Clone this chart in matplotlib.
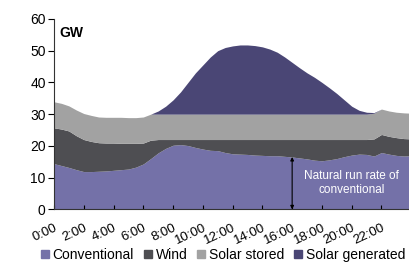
import numpy as np
import matplotlib
matplotlib.use("Agg")
import matplotlib.pyplot as plt
from matplotlib.lines import Line2D

plt.rcParams['font.family'] = ['Liberation Sans', 'DejaVu Sans']

# half-hour steps, 0:00 .. 24:00
hours = np.arange(0, 24.01, 0.5)

# top edge of each stacked layer (GW)
conventional_top = [14.4, 13.8, 13.2, 12.5, 11.9, 11.9, 12.0, 12.1, 12.3, 12.5,
                    12.7, 13.3, 14.3, 16.0, 17.8, 19.2, 20.2, 20.4, 20.1, 19.5,
                    19.0, 18.6, 18.5, 17.9, 17.5, 17.4, 17.3, 17.1, 17.0, 16.9,
                    16.9, 16.7, 16.5, 16.2, 15.9, 15.5, 15.3, 15.6, 16.0, 16.6,
                    17.1, 17.4, 17.3, 16.8, 17.9, 17.4, 17.0, 16.8, 16.9]
wind_top = [25.7, 25.3, 24.7, 23.2, 22.0, 21.4, 21.0, 20.9, 20.9, 20.8,
            20.8, 20.8, 20.9, 21.8, 22.0, 22.0, 22.0, 22.0, 22.0, 22.0,
            22.0, 22.0, 22.0, 22.0, 22.0, 22.0, 22.0, 22.0, 22.0, 22.0,
            22.0, 22.0, 22.0, 22.0, 22.0, 22.0, 22.0, 22.0, 22.0, 22.0,
            22.0, 22.0, 22.0, 22.2, 23.6, 23.0, 22.6, 22.3, 22.2]
stored_top = [33.9, 33.4, 32.6, 31.3, 30.2, 29.6, 29.1, 29.0, 29.0, 29.0,
              28.9, 28.9, 29.1, 30.0, 30.0, 30.0, 30.0, 30.0, 30.0, 30.0,
              30.0, 30.0, 30.0, 30.0, 30.0, 30.0, 30.0, 30.0, 30.0, 30.0,
              30.0, 30.0, 30.0, 30.0, 30.0, 30.0, 30.0, 30.0, 30.0, 30.0,
              30.0, 30.0, 30.0, 30.3, 31.6, 31.0, 30.6, 30.4, 30.3]
generated_top = [33.9, 33.4, 32.6, 31.3, 30.2, 29.6, 29.1, 29.0, 29.0, 29.0,
                 28.9, 28.9, 29.1, 30.0, 31.0, 32.5, 34.5, 37.0, 40.0, 43.0,
                 45.5, 48.0, 50.0, 51.0, 51.5, 51.8, 51.8, 51.6, 51.2, 50.5,
                 49.5, 48.0, 46.3, 44.6, 43.0, 41.6, 40.0, 38.3, 36.5, 34.5,
                 32.5, 31.2, 30.6, 30.5, 31.6, 31.0, 30.6, 30.4, 30.3]

labels = ["Conventional", "Wind", "Solar stored", "Solar generated"]
colors = ["#7471a8", "#4e4e52", "#a2a2a2", "#4a4675"]

tick_hours = list(range(0, 24, 2))
tick_labels = ["%d:00" % h for h in tick_hours]

fig = plt.figure(figsize=(4.09, 2.63), dpi=100)
ax = fig.add_axes([0.132, 0.204, 0.868, 0.724])

bottoms = [np.zeros(len(hours)), conventional_top, wind_top, stored_top]
tops = [conventional_top, wind_top, stored_top, generated_top]
for b, t, c in zip(bottoms, tops, colors):
    ax.fill_between(hours, b, t, color=c, lw=0)

ax.set_xlim(0, 23.85)
ax.set_ylim(0, 60)
ax.set_yticks(range(0, 61, 10))
ax.set_xticks(tick_hours)
ax.set_xticklabels(tick_labels, rotation=25, ha='right', rotation_mode='anchor')
ax.tick_params(axis='x', direction='in', length=3, labelsize=9.5, pad=9)
ax.tick_params(axis='y', direction='out', length=4, labelsize=10, pad=2)
for s in ['top', 'right']:
    ax.spines[s].set_visible(False)
for s in ['left', 'bottom']:
    ax.spines[s].set_color('#333333')

ax.text(0.35, 55.5, "GW", fontsize=10, fontweight='bold', va='center')

# natural run rate arrow at 16:00
ax.annotate("", xy=(16, conventional_top[32]), xytext=(16, 0),
            arrowprops=dict(arrowstyle='<|-|>', color='black', lw=0.8,
                            mutation_scale=5, shrinkA=0, shrinkB=0))
ax.text(20.0, 8.4, "Natural run rate of\nconventional", color='white',
        fontsize=8.5, ha='center', va='center')

handles = [Line2D([], [], marker='s', ls='', color=c, markersize=6) for c in colors]
fig.legend(handles, labels, loc='center', bbox_to_anchor=(0.545, 0.03), ncol=4,
           frameon=False, fontsize=10, handlelength=0.6, handletextpad=0.25,
           columnspacing=0.7, borderaxespad=0)

fig.savefig("out.png", dpi=100)
